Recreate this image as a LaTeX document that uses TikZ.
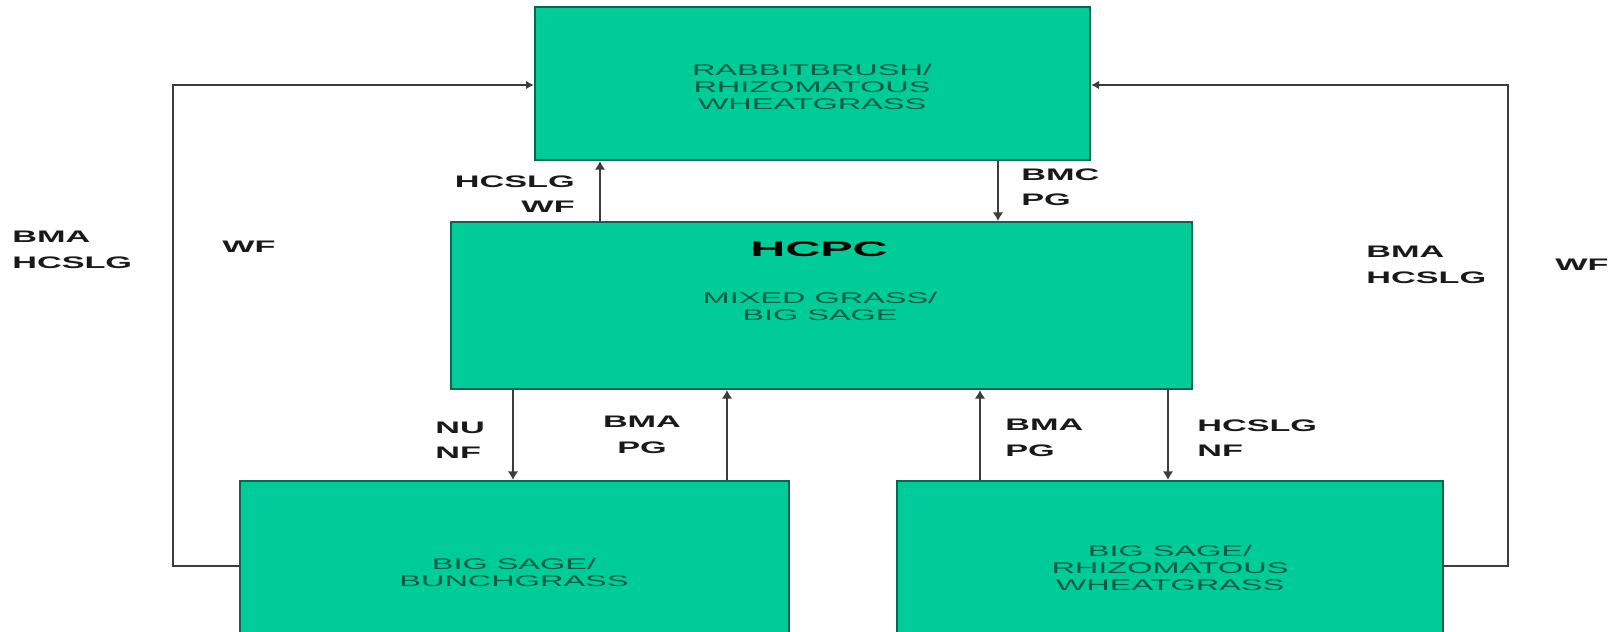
\documentclass[tikz,border=0pt]{standalone}
\usepackage{fontspec}
\usepackage{xcolor}
\setmainfont{Liberation Sans}
\newfontfamily\boxfont[FakeStretch=2.1]{Liberation Sans}
\newfontfamily\labelfont[FakeStretch=2.05]{Liberation Sans Bold}
\newfontfamily\hcpcfont[FakeStretch=2.3]{Liberation Sans Bold}
\usetikzlibrary{arrows.meta,calc,positioning}
\definecolor{boxfill}{RGB}{0,204,153}
\definecolor{boxline}{RGB}{10,100,80}
\definecolor{boxtext}{RGB}{0,92,68}
\definecolor{linec}{RGB}{60,60,60}
\definecolor{labelc}{RGB}{25,25,25}
\tikzset{%
	state/.style    = {draw=boxline, fill=boxfill, line width=1.2pt, rectangle, inner sep=0pt},
	boxtext/.style  = {text=boxtext, font=\boxfont\fontsize{8.8}{9.7}\selectfont, align=center, inner sep=0pt},
	trans/.style    = {text=labelc, font=\labelfont\fontsize{9.5}{14.5}\selectfont, inner sep=0pt},
	arrow/.style    = {line width=1.4pt, draw=linec, -{Latex[length=1.7mm,width=2.1mm]}},
	back/.style     = {line width=0.9pt, draw=linec, -{Latex[length=1.6mm,width=1.7mm]}},
}
\begin{document}
\begin{tikzpicture}[x=0.02cm,y=-0.02cm]
		\useasboundingbox[fill=white] (0,0) rectangle (1617,632);
		% states
		\node[state, minimum width=11.1cm, minimum height=3.06cm] (rab) at (812.5,83.5) {};
		\node[state, minimum width=14.82cm, minimum height=3.34cm] (hcpc) at (821.5,305.5) {};
		\node[state, minimum width=10.98cm, minimum height=3.58cm] (bunch) at (514.5,570.5) {};
		\node[state, minimum width=10.92cm, minimum height=3.58cm] (rhizo) at (1170,570.5) {};
		\node[boxtext] (rabtxt) at (812,87) {RABBITBRUSH/\\RHIZOMATOUS\\WHEATGRASS};
		\node[text=black, font=\hcpcfont\fontsize{12}{14}\selectfont, inner sep=0pt] (hcpctitle) at (819,249) {HCPC};
		\node[boxtext] (hcpctxt) at (820,306) {MIXED GRASS/\\BIG SAGE};
		\node[boxtext] (bunchtxt) at (514,572) {BIG SAGE/\\BUNCHGRASS};
		\node[boxtext] (rhizotxt) at (1170,568) {BIG SAGE/\\RHIZOMATOUS\\WHEATGRASS};
		% arrow columns
		\coordinate (c1) at (600,0);
		\coordinate (c2) at (998,0);
		\coordinate (c3) at (513,0);
		\coordinate (c4) at (727,0);
		\coordinate (c5) at (980,0);
		\coordinate (c6) at (1168,0);
		\draw[arrow] (hcpc.north -| c1) -- (rab.south -| c1);
		\draw[arrow] (rab.south -| c2) -- (hcpc.north -| c2);
		\draw[arrow] (hcpc.south -| c3) -- (bunch.north -| c3);
		\draw[arrow] (bunch.north -| c4) -- (hcpc.south -| c4);
		\draw[arrow] (rhizo.north -| c5) -- (hcpc.south -| c5);
		\draw[arrow] (hcpc.south -| c6) -- (rhizo.north -| c6);
		% long way back to the top
		\coordinate (lb) at (173,566);
		\coordinate (lt) at (173,85);
		\coordinate (rb) at (1508,566);
		\coordinate (rt) at (1508,85);
		\draw[back] (bunch.west |- lb) -- (lb) -- (lt) -- (rab.west |- lt);
		\draw[back] (rhizo.east |- rb) -- (rb) -- (rt) -- (rab.east |- rt);
		% labels
		\node[trans, anchor=east, align=right] (l1) at (575,194) {HCSLG\\WF};
		\node[trans, anchor=west, align=left] (l2) at (1021,187) {BMC\\PG};
		\node[trans, anchor=west, align=left] (l3) at (12,250) {BMA\\HCSLG};
		\node[trans] (l4) at (249,247) {WF};
		\node[trans, anchor=west, align=left] (l5) at (1366,265) {BMA\\HCSLG};
		\node[trans] (l6) at (1582,265) {WF};
		\node[trans, anchor=west, align=left] (l7) at (435,440) {NU\\NF};
		\node[trans, align=center] (l8) at (642,435) {BMA\\PG};
		\node[trans, anchor=west, align=left] (l9) at (1005,438) {BMA\\PG};
		\node[trans, anchor=west, align=left] (l10) at (1197,438) {HCSLG\\NF};
\end{tikzpicture}
\end{document}
